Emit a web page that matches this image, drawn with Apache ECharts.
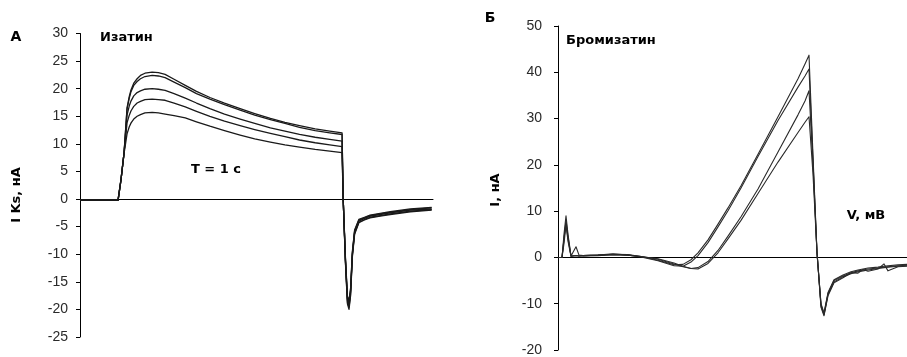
<!DOCTYPE html>
<html>
<head>
<meta charset="utf-8">
<script src="https://cdn.jsdelivr.net/npm/echarts@6/dist/echarts.min.js"></script>
<style>
html,body{margin:0;padding:0;background:#fff;}
#chart{width:907px;height:357px;}
</style>
</head>
<body>
<div id="chart"></div>
<script>
// ---------- Panel A: Изатин (time, ms) ----------
const timeA = [-170, 0, 13, 27, 40, 50, 58, 70, 85, 100, 120, 152, 180, 210, 250, 300, 350, 410, 475, 545, 610, 680, 745, 810, 880, 945, 1000,
  1005, 1015, 1024, 1031, 1038, 1046, 1056, 1075, 1100, 1125, 1170, 1215, 1305, 1400];
const izatin1 = [-0.2, -0.2, 3.5, 8.5, 16.5, 18.6, 19.8, 21.0, 21.8, 22.4, 22.8, 23.0, 22.9, 22.6, 21.7, 20.6, 19.5, 18.4, 17.4, 16.4, 15.5, 14.6, 13.9, 13.3, 12.7, 12.3, 12.0,
  0, -11.5, -19, -20.0, -17.5, -10.5, -6.4, -4.3, -3.8, -3.4, -3.1, -2.8, -2.3, -2.0];
const izatin2 = [-0.2, -0.2, 3.5, 8.5, 16.3, 18.3, 19.5, 20.6, 21.3, 21.8, 22.2, 22.4, 22.3, 22.0, 21.2, 20.2, 19.1, 18.1, 17.1, 16.1, 15.2, 14.4, 13.7, 13.0, 12.4, 12.0, 11.7,
  0, -11.3, -18.7, -19.6, -17.2, -10.2, -6.2, -4.2, -3.7, -3.3, -3.0, -2.7, -2.2, -1.9];
const izatin3 = [-0.2, -0.2, 3.5, 8.5, 15.2, 16.9, 17.8, 18.7, 19.3, 19.6, 19.9, 20.0, 19.9, 19.7, 19.1, 18.3, 17.4, 16.4, 15.4, 14.5, 13.7, 12.9, 12.3, 11.7, 11.2, 10.8, 10.5,
  0, -11, -18.3, -19.2, -16.8, -10.0, -6.0, -4.0, -3.5, -3.1, -2.8, -2.5, -2.0, -1.8];
const izatin4 = [-0.2, -0.2, 3.5, 8.5, 13.8, 15.2, 16.0, 16.8, 17.4, 17.7, 18.0, 18.1, 18.0, 17.9, 17.4, 16.7, 15.9, 15.0, 14.1, 13.3, 12.6, 11.9, 11.3, 10.7, 10.2, 9.8, 9.5,
  0, -10.8, -18.0, -18.8, -16.5, -9.8, -5.8, -3.8, -3.4, -3.0, -2.7, -2.4, -1.9, -1.6];
const izatin5 = [-0.2, -0.2, 3.5, 8.3, 11.8, 13.1, 13.8, 14.5, 15.0, 15.3, 15.6, 15.7, 15.6, 15.4, 15.1, 14.7, 14.0, 13.2, 12.4, 11.6, 10.9, 10.3, 9.8, 9.4, 9.0, 8.7, 8.4,
  0, -10.5, -17.6, -18.4, -16.2, -9.5, -5.6, -3.7, -3.3, -2.9, -2.6, -2.3, -1.8, -1.5];
const ticksA = [-25, -20, -15, -10, -5, 0, 5, 10, 15, 20, 25, 30];

// ---------- Panel Б: Бромизатин (ramp) ----------
const timeB = [0, 4, 6, 8, 10, 13, 15, 18, 21, 25, 40, 55, 70, 83, 100, 116, 125, 133, 140, 150,
  160, 170, 183, 200, 220, 240, 247, 251, 255, 259, 263, 266, 270, 276, 285, 293, 300, 305, 310, 320,
  326, 330, 340, 349];
const brom1 = [0, 0, 5, 9, 5, 0.3, 0.3, 0.4, 0.3, 0.4, 0.5, 0.7, 0.6, 0.2, -0.6, -1.6, -1.5, -0.5, 1.0, 3.8,
  7.2, 10.7, 15.5, 22.3, 30.4, 38.6, 41.8, 43.7, 22, 1, -10.5, -12.4, -8, -5.3, -4.2, -3.5, -3.1, -2.9, -2.7, -2.4,
  -2.2, -2.1, -1.9, -1.8];
const brom2 = [0, 0, 4, 8, 4.5, 0.3, 0.5, 2.3, 0.5, 0.4, 0.5, 0.8, 0.5, 0.1, -0.7, -1.8, -1.9, -1.0, 0.4, 3.2,
  6.6, 10.1, 15.0, 21.8, 29.6, 36.8, 39.2, 40.7, 21, 1, -10.8, -12.6, -8.3, -5.5, -4.4, -3.3, -3.4, -2.6, -3.0, -2.5,
  -1.4, -2.9, -2.0, -1.9];
const brom3 = [0, 0, 3, 7, 3.5, 0.2, 0.3, 0.4, 0.3, 0.3, 0.4, 0.6, 0.5, 0.2, -0.4, -1.4, -2.0, -2.4, -2.2, -0.9,
  1.5, 4.6, 8.8, 14.8, 22.8, 30.8, 33.8, 36.0, 20, 1, -10.2, -12.2, -7.8, -5.0, -4.0, -3.3, -2.9, -2.7, -2.5, -2.3,
  -2.1, -2.0, -1.8, -1.7];
const brom4 = [0, 0, 4, 7.5, 4, 0.3, 0.3, 0.4, 0.3, 0.4, 0.5, 0.6, 0.5, 0.2, -0.3, -1.2, -1.9, -2.4, -2.5, -1.3,
  1.0, 4.0, 8.0, 13.8, 20.6, 27.0, 29.2, 30.4, 18, 1, -10, -12.0, -7.6, -4.8, -3.8, -3.1, -2.7, -2.5, -2.3, -2.1,
  -1.9, -1.8, -1.6, -1.5];
const ticksB = [-20, -10, 0, 10, 20, 30, 40, 50];

function pairs(xs, ys){ return xs.map((x,i)=>[x, ys[i]]); }

const chart = echarts.init(document.getElementById('chart'), null, {renderer:'canvas'});
const labelFont = {fontFamily:'Liberation Sans', fontSize:14, color:'#2a2a2a'};
const bold = '"DejaVu Sans"';

function lineSeries(xi, yi, data, color, w){
  return {type:'line', xAxisIndex:xi, yAxisIndex:yi, data:data, showSymbol:false, symbol:'none',
    smooth:false, animation:false,
    lineStyle:{color:color, width:w, join:'round'}, silent:true};
}

const option = {
  animation:false,
  backgroundColor:'#fff',
  grid:[
    {left:80, top:33.5, width:353, height:303.5},
    {left:558, top:26, width:349, height:325.5}
  ],
  xAxis:[
    {type:'value', gridIndex:0, min:-170, max:1406, axisLabel:{show:false}, axisTick:{show:false},
      splitLine:{show:false}, axisLine:{onZero:true, lineStyle:{color:'#000', width:1}}},
    {type:'value', gridIndex:1, min:0, max:349, axisLabel:{show:false}, axisTick:{show:false},
      splitLine:{show:false}, axisLine:{onZero:true, lineStyle:{color:'#000', width:1}}}
  ],
  yAxis:[
    {type:'value', gridIndex:0, min:ticksA[0], max:ticksA[ticksA.length-1], interval:5,
      axisLine:{show:true, onZero:false, lineStyle:{color:'#000', width:1}},
      axisTick:{show:true, inside:false, length:4, lineStyle:{color:'#000'}},
      splitLine:{show:false},
      axisLabel:Object.assign({margin:12}, labelFont)},
    {type:'value', gridIndex:1, min:ticksB[0], max:ticksB[ticksB.length-1], interval:10,
      axisLine:{show:true, onZero:false, lineStyle:{color:'#000', width:1}},
      axisTick:{show:true, inside:false, length:4, lineStyle:{color:'#000'}},
      splitLine:{show:false},
      axisLabel:Object.assign({margin:16}, labelFont)}
  ],
  series:[
    lineSeries(0,0,pairs(timeA, izatin1),'#1a1a1a',1.3),
    lineSeries(0,0,pairs(timeA, izatin2),'#1a1a1a',1.3),
    lineSeries(0,0,pairs(timeA, izatin3),'#1a1a1a',1.3),
    lineSeries(0,0,pairs(timeA, izatin4),'#1a1a1a',1.3),
    lineSeries(0,0,pairs(timeA, izatin5),'#1a1a1a',1.3),
    lineSeries(1,1,pairs(timeB, brom1),'#2a2a2a',1.1),
    lineSeries(1,1,pairs(timeB, brom2),'#2a2a2a',1.1),
    lineSeries(1,1,pairs(timeB, brom3),'#2a2a2a',1.1),
    lineSeries(1,1,pairs(timeB, brom4),'#2a2a2a',1.1)
  ],
  graphic:[
    {type:'text', x:16, y:37.5, style:{text:'А', font:'bold 14px '+bold, fill:'#000', textAlign:'center', textVerticalAlign:'middle'}},
    {type:'text', x:100, y:38, style:{text:'Изатин', font:'bold 13px '+bold, fill:'#000', textAlign:'left', textVerticalAlign:'middle'}},
    {type:'text', x:216, y:170, style:{text:'T = 1 c', font:'bold 13px '+bold, fill:'#000', textAlign:'center', textVerticalAlign:'middle'}},
    {type:'text', x:17, y:195, rotation:Math.PI/2, style:{text:'I Ks, нА', font:'bold 13px '+bold, fill:'#000', textAlign:'center', textVerticalAlign:'middle'}},
    {type:'text', x:490, y:18.5, style:{text:'Б', font:'bold 14px '+bold, fill:'#000', textAlign:'center', textVerticalAlign:'middle'}},
    {type:'text', x:566, y:41, style:{text:'Бромизатин', font:'bold 13px '+bold, fill:'#000', textAlign:'left', textVerticalAlign:'middle'}},
    {type:'text', x:496, y:190, rotation:Math.PI/2, style:{text:'I, нА', font:'bold 13px '+bold, fill:'#000', textAlign:'center', textVerticalAlign:'middle'}},
    {type:'text', x:866, y:216, style:{text:'V, мВ', font:'bold 13px '+bold, fill:'#000', textAlign:'center', textVerticalAlign:'middle'}}
  ]
};
chart.setOption(option);
</script>
</body>
</html>
